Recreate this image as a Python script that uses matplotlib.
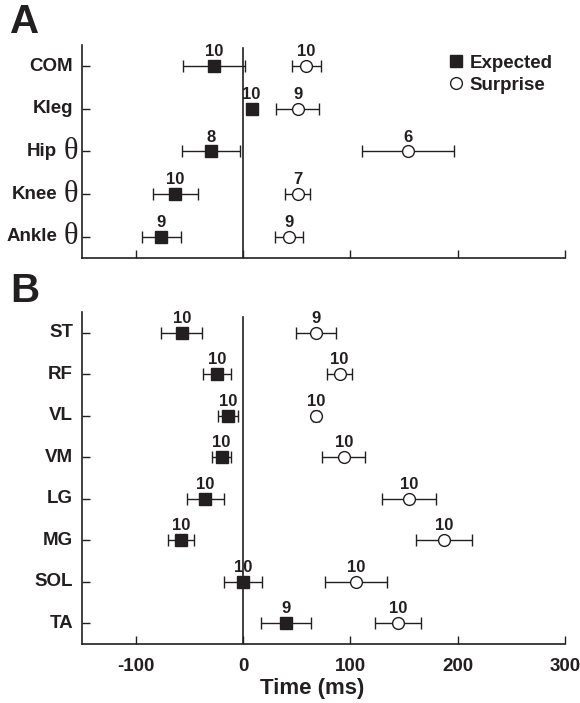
import matplotlib
matplotlib.use("Agg")
import matplotlib.pyplot as plt
from matplotlib.lines import Line2D

plt.rcParams['font.family'] = ['Liberation Sans', 'DejaVu Sans']
INK = '#231f20'

# Panel A data
a_labels = ['COM', 'Kleg', 'Hip', 'Knee', 'Ankle']
a_theta = [False, False, True, True, True]
a_exp_mean = [-27, 8, -30, -63, -76]
a_exp_err = [29, 2, 27, 21, 18]
a_exp_n = [10, 10, 8, 10, 9]
a_sur_mean = [59, 51, 154, 51, 43]
a_sur_err = [13.5, 20, 43, 11.5, 13]
a_sur_n = [10, 9, 6, 7, 9]

# Panel B data
b_labels = ['ST', 'RF', 'VL', 'VM', 'LG', 'MG', 'SOL', 'TA']
b_exp_mean = [-57, -24.5, -14, -20, -35, -58, 0, 40]
b_exp_err = [19, 13, 9, 9, 17.5, 12, 18, 23.5]
b_exp_n = [10, 10, 10, 10, 10, 10, 10, 9]
b_sur_mean = [68, 90, 68, 94, 154.5, 187.5, 105, 144.5]
b_sur_err = [18.5, 12, 2.5, 20, 25, 26, 29, 21.5]
b_sur_n = [9, 10, 10, 10, 10, 10, 10, 10]

xticks = [-100, 0, 100, 200, 300]

fig = plt.figure(figsize=(5.8, 7.03), dpi=100)
W, H = 580, 703
axA = fig.add_axes([82 / W, 1 - 258 / H, (565 - 82) / W, (258 - 45) / H])
axB = fig.add_axes([82 / W, 1 - 644 / H, (565 - 82) / W, (644 - 312) / H])


def draw(ax, labels, em, ee, en, sm, se, sn, theta=None):
    n = len(labels)
    ys = list(range(n))
    ax.set_xlim(-150, 300)
    ax.set_ylim(n - 0.5, -0.5)
    ax.axvline(0, color=INK, lw=1.2, ymin=0, ymax=0.985, zorder=1)
    ax.errorbar(em, ys, xerr=ee, fmt='s', color=INK, ms=8, mfc=INK, mec=INK,
                ecolor=INK, elinewidth=1.0, capsize=4.3, capthick=1.0, zorder=3)
    ax.errorbar(sm, ys, xerr=se, fmt='o', color=INK, ms=8.5, mfc='white', mec=INK,
                mew=1.0, ecolor=INK, elinewidth=1.0, capsize=4.3, capthick=1.0, zorder=3)
    for x, y, t in zip(em, ys, en):
        ax.annotate(str(t), (x, y), xytext=(0, 7), textcoords='offset pixels',
                    ha='center', va='bottom', fontsize=12, fontweight='bold', color=INK)
    for x, y, t in zip(sm, ys, sn):
        ax.annotate(str(t), (x, y), xytext=(0, 7), textcoords='offset pixels',
                    ha='center', va='bottom', fontsize=12, fontweight='bold', color=INK)
    ax.set_yticks(ys)
    ax.set_yticklabels([''] * n)
    for i, lab in enumerate(labels):
        if theta is not None and theta[i]:
            ax.annotate('θ', (0, i), xycoords=('axes fraction', 'data'),
                        xytext=(-4, 0), textcoords='offset pixels', ha='right', va='center',
                        fontsize=22, family='Liberation Serif', color=INK)
            ax.annotate(lab, (0, i), xycoords=('axes fraction', 'data'),
                        xytext=(-25, 0), textcoords='offset pixels', ha='right', va='center',
                        fontsize=13.5, fontweight='bold', color=INK)
        else:
            ax.annotate(lab, (0, i), xycoords=('axes fraction', 'data'),
                        xytext=(-9, 0), textcoords='offset pixels', ha='right', va='center',
                        fontsize=13.5, fontweight='bold', color=INK)
    ax.set_xticks(xticks)
    for s in ['top', 'right']:
        ax.spines[s].set_visible(False)
    for s in ['left', 'bottom']:
        ax.spines[s].set_linewidth(1.2)
        ax.spines[s].set_color(INK)
    ax.tick_params(direction='in', length=5.5, width=1.0, color=INK, labelcolor=INK)


draw(axA, a_labels, a_exp_mean, a_exp_err, a_exp_n, a_sur_mean, a_sur_err, a_sur_n, a_theta)
draw(axB, b_labels, b_exp_mean, b_exp_err, b_exp_n, b_sur_mean, b_sur_err, b_sur_n)

axA.set_xticklabels([''] * len(xticks))
axB.set_xticklabels([str(t) for t in xticks], fontsize=13.5, fontweight='bold')
axB.tick_params(axis='x', pad=10)
axB.set_xlabel('Time (ms)', fontsize=16, fontweight='bold', color=INK)
axB.xaxis.set_label_coords(0.476, -0.103)

handles = [Line2D([], [], ls='none', marker='s', ms=8, mfc=INK, mec=INK),
           Line2D([], [], ls='none', marker='o', ms=8.5, mfc='white', mec=INK, mew=1.0)]
leg = axA.legend(handles, ['Expected', 'Surprise'], loc='upper left',
                 bbox_to_anchor=(0.74, 0.99), frameon=False, handletextpad=0.2,
                 handlelength=1.0, labelspacing=0.25, borderaxespad=0,
                 prop={'size': 13.5, 'weight': 'bold'})
for t in leg.get_texts():
    t.set_color(INK)

fig.text(10 / W, 1 - 22 / H, 'A', fontsize=29, fontweight='bold', color=INK, va='center')
fig.text(10 / W, 1 - 291 / H, 'B', fontsize=29, fontweight='bold', color=INK, va='center')

fig.savefig('out.png', dpi=100)
